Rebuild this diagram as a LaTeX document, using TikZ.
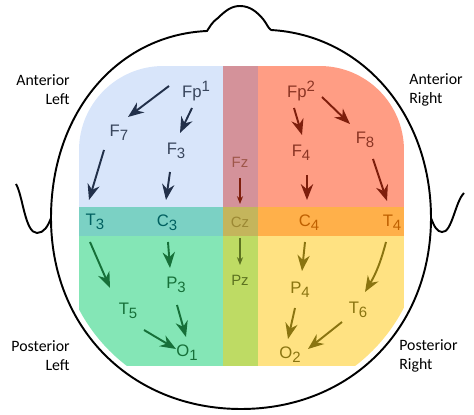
\documentclass[tikz,border=0pt]{standalone}
\usepackage{fontspec}
\setmainfont{Carlito}
\newfontfamily\elfont{Liberation Sans}
\usetikzlibrary{arrows.meta}

\definecolor{tlfill}{HTML}{D8E5FA}
\definecolor{tcfill}{HTML}{D4929A}
\definecolor{trfill}{HTML}{FF9D84}
\definecolor{blfill}{HTML}{7BD1C4}
\definecolor{bcfill}{HTML}{C4B55C}
\definecolor{brfill}{HTML}{FFB04A}
\definecolor{plfill}{HTML}{84E6B6}
\definecolor{pcfill}{HTML}{BEDB64}
\definecolor{prfill}{HTML}{FFE282}
\definecolor{navy}{HTML}{22304A}
\definecolor{rust}{HTML}{7E1E0C}
\definecolor{pine}{HTML}{167039}
\definecolor{olive}{HTML}{8A7410}

\newcommand{\lo}[1]{\raisebox{-0.45ex}{\fontsize{8.5}{9}\selectfont #1}}
\newcommand{\hi}[1]{\raisebox{0.75ex}{\fontsize{8.5}{9}\selectfont #1}}
% head outline around (0,0), open at the nose
\newcommand{\headline}{(30,-188) .. controls (120,-183) and (190,-105) .. (190,0)
  .. controls (190,110) and (110,191) .. (0,191)
  .. controls (-110,191) and (-190,110) .. (-190,0)
  .. controls (-190,-105) and (-124,-183) .. (-34,-187)}

\tikzset{
  el/.style={inner sep=0pt, font=\elfont\fontsize{9.5}{11}\selectfont},
  mid/.style={inner sep=0pt, font=\elfont\fontsize{8.5}{10}\selectfont},
  side/.style={inner sep=0pt, font=\fontsize{9}{10.8}\selectfont},
  arr/.style={line width=1.1pt, -{Stealth[length=9pt,width=7pt]}},
  thin arr/.style={line width=0.6pt, -{Stealth[length=4.5pt,width=3.5pt]}}
}

\begin{document}
\begin{tikzpicture}[x=0.02cm, y=-0.02cm]
  \useasboundingbox (0,0) rectangle (474,415);

  % lobes
  \begin{scope}
    \clip[shift={(241,218)}, scale=0.968] \headline -- cycle;
    \clip[rounded corners=48pt] (79,220) -- (79,66) -- (404,66) -- (404,220)
      [rounded corners=24pt] -- (404,366) -- (79,366) -- cycle;
    \fill[tlfill] (79,66) rectangle (223,207);
    \fill[tcfill] (223,66) rectangle (258,207);
    \fill[trfill] (258,66) rectangle (404,207);
    \fill[blfill] (79,207) rectangle (223,236);
    \fill[bcfill] (223,207) rectangle (258,236);
    \fill[brfill] (258,207) rectangle (404,236);
    \fill[plfill] (79,236) rectangle (223,366);
    \fill[pcfill] (223,236) rectangle (258,366);
    \fill[prfill] (258,236) rectangle (404,366);
  \end{scope}

  % head, nose and ears
  \draw[line width=1.1pt, shift={(241,218)}] \headline
    .. controls (-31,-191) and (-30,-195) .. (-23,-200)
    .. controls (-15,-208) and (-9,-212) .. (-1,-212)
    .. controls (9,-212) and (16,-206) .. (22,-199)
    .. controls (26,-194) and (27,-190) .. (30,-188);
  \draw[line width=1.1pt] (16,184) .. controls (23,196) and (25,233) .. (37,233)
    .. controls (44,233) and (48,226) .. (51,218);
  \draw[line width=1.1pt] (464,193) .. controls (455,202) and (452,233) .. (442,232)
    .. controls (437,232) and (434,226) .. (431,218);

  \node[side, anchor=east, align=right] (al) at (70,90) {Anterior\\Left};
  \node[side, anchor=west, align=left] (ar) at (409,90) {Anterior\\Right};
  \node[side, anchor=east, align=right] (pl) at (70,356) {Posterior\\Left};
  \node[side, anchor=west, align=left] (pr) at (399,356) {Posterior\\Right};

  % electrodes
  \node[el, text=navy!90] (fp1) at (196,91) {Fp\hi{1}};
  \node[el, text=navy!90] (f7) at (119,133) {F\lo{7}};
  \node[el, text=navy!90] (f3) at (176,151) {F\lo{3}};
  \node[mid, text=rust!75] (fz) at (240,162) {Fz};
  \node[el, text=rust!90] (fp2) at (301,91) {Fp\hi{2}};
  \node[el, text=rust!90] (f4) at (301,153) {F\lo{4}};
  \node[el, text=rust!90] (f8) at (365,140) {F\lo{8}};
  \node[el, text=teal!75!black] (t3) at (95,222) {T\lo{3}};
  \node[el, text=teal!75!black] (c3) at (167,223) {C\lo{3}};
  \node[mid, text=olive!85] (cz) at (240,222) {Cz};
  \node[el, text=orange!75!black] (c4) at (309,223) {C\lo{4}};
  \node[el, text=orange!75!black] (t4) at (392,223) {T\lo{4}};
  \node[mid, text=olive!60!pine] (pz) at (240,280) {Pz};
  \node[el, text=pine] (p3) at (176,285) {P\lo{3}};
  \node[el, text=pine] (t5) at (128,311) {T\lo{5}};
  \node[el, text=pine] (o1) at (187,353) {O\lo{1}};
  \node[el, text=olive] (p4) at (300,290) {P\lo{4}};
  \node[el, text=olive] (t6) at (358,310) {T\lo{6}};
  \node[el, text=olive] (o2) at (290,355) {O\lo{2}};

  % propagation
  \draw[arr, navy] ([shift={(-27,-5)}]fp1.center) -- ([shift={(9,-16)}]f7.center);
  \draw[arr, navy] ([shift={(-4,17)}]fp1.center) -- ([shift={(4,-18)}]f3.center);
  \draw[arr, navy] ([shift={(-15,17)}]f7.center) -- ([shift={(-6,-22)}]t3.center);
  \draw[arr, navy] ([shift={(-6,21)}]f3.center) -- ([shift={(-1,-23)}]c3.center);
  \draw[thin arr, rust] ([shift={(0,16)}]fz.center) -- ([shift={(0,-18)}]cz.center);
  \draw[arr, rust] ([shift={(-7,17)}]fp2.center) -- ([shift={(1,-18)}]f4.center);
  \draw[arr, rust] ([shift={(21,6)}]fp2.center) -- ([shift={(-15,-16)}]f8.center);
  \draw[arr, rust] ([shift={(6,22)}]f4.center) -- ([shift={(-2,-23)}]c4.center);
  \draw[arr, rust] ([shift={(8,19)}]f8.center) -- ([shift={(-5,-22)}]t4.center);
  \draw[arr, pine] ([shift={(-5,20)}]t3.center) -- ([shift={(-18,-23)}]t5.center);
  \draw[arr, pine] ([shift={(1,19)}]c3.center) -- ([shift={(-6,-17)}]p3.center);
  \draw[thin arr, olive!60!pine] ([shift={(0,16)}]cz.center) -- ([shift={(0,-15)}]pz.center);
  \draw[arr, pine] ([shift={(1,20)}]p3.center) -- ([shift={(-1,-16)}]o1.center);
  \draw[arr, pine] ([shift={(16,19)}]t5.center) -- ([shift={(-11,-4)}]o1.center);
  \draw[arr, olive] ([shift={(-4,19)}]c4.center) -- ([shift={(2,-19)}]p4.center);
  \draw[arr, olive] ([shift={(-6,19)}]t4.center) to[bend left=8] ([shift={(7,-18)}]t6.center);
  \draw[arr, olive] ([shift={(-5,18)}]p4.center) -- ([shift={(-2,-16)}]o2.center);
  \draw[arr, olive] ([shift={(-16,12)}]t6.center) -- ([shift={(18,-6)}]o2.center);
\end{tikzpicture}
\end{document}
